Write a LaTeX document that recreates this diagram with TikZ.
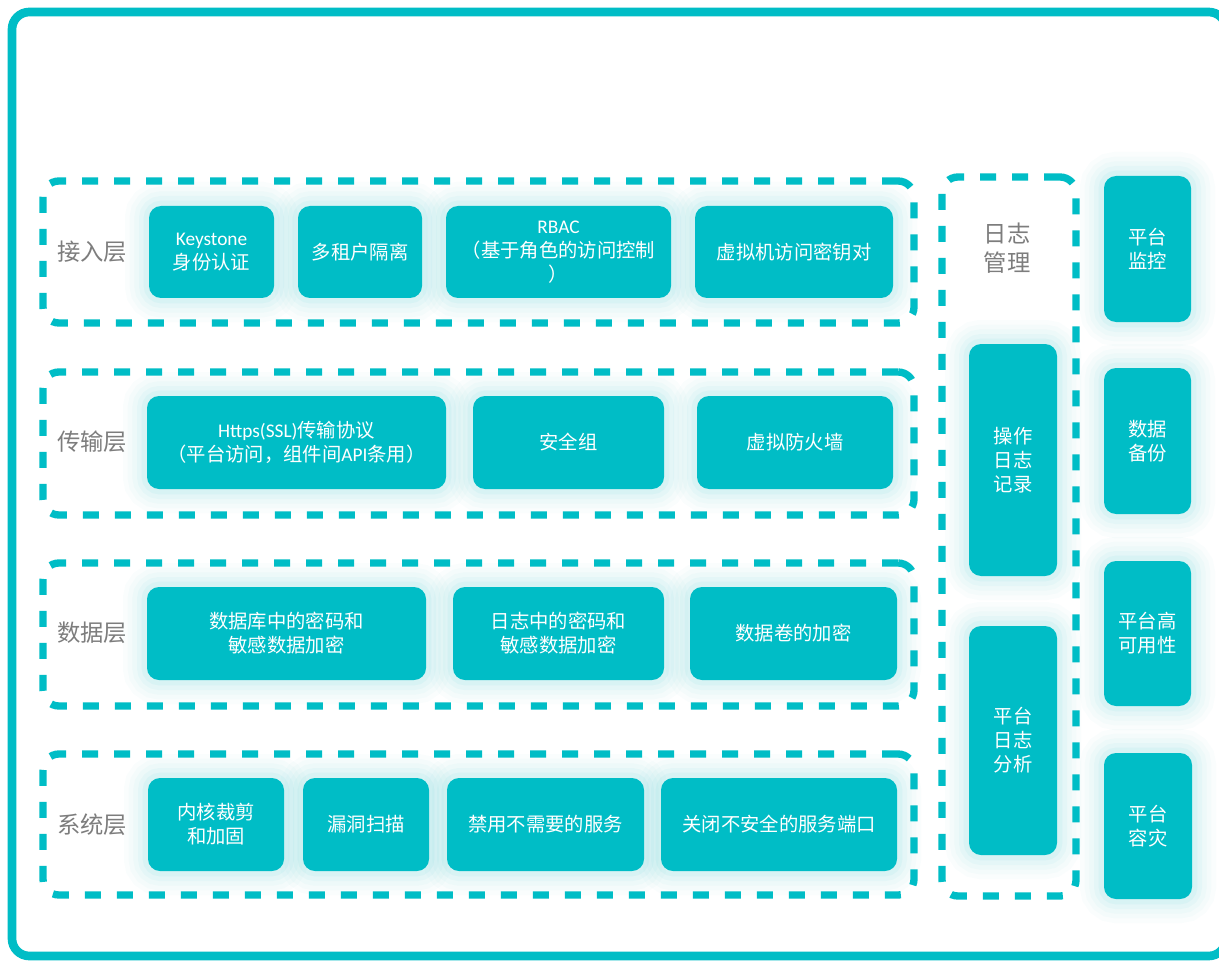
\documentclass[tikz,border=0pt]{standalone}
\usepackage{fontspec}
\setmainfont{Noto Sans CJK SC}
\newfontfamily\lat{Carlito}
\definecolor{tc}{RGB}{0,189,198}
\definecolor{lbl}{RGB}{125,125,125}
\tikzset{
  area/.style args={#1,#2,#3,#4}{minimum width={(#3-#1)*0.75pt},
    minimum height={(#4-#2)*0.75pt}, at={({(#1+#3)/2},{(#2+#4)/2})}},
  glow/.style={
    preaction={draw=tc,draw opacity=.018,line width=36pt},
    preaction={draw=tc,draw opacity=.022,line width=29pt},
    preaction={draw=tc,draw opacity=.028,line width=22pt},
    preaction={draw=tc,draw opacity=.035,line width=15pt},
    preaction={draw=tc,draw opacity=.05,line width=8pt}},
  box/.style={glow, fill=tc, rounded corners=9pt, inner sep=0pt, outer sep=0pt,
    text=white, align=center, font=\fontsize{14.5}{18}\selectfont},
  layer/.style={draw=tc, line width=5.5pt, dash pattern=on 12pt off 12pt,
    rounded corners=12pt, inner sep=0pt},
  lab/.style={text=lbl, font=\fontsize{17.5}{22}\selectfont, align=center},
  frame/.style={draw=tc, line width=6.5pt, rounded corners=13pt, inner sep=0pt},
}
\begin{document}
\begin{tikzpicture}[x=0.75pt,y=-0.75pt]
\useasboundingbox (0,0) rectangle (1219,962);
\clip (0,0) rectangle (1219,962);
\fill[white] (0,0) rectangle (1219,962);
\node[frame, area={12,12,1226,956}] (outer) {};

% layer containers
\node[layer, area={43,181,914,323}] (L1) {};
\node[layer, area={43,372,914,515}] (L2) {};
\node[layer, area={43,563,914,706}] (L3) {};
\node[layer, area={43,754,914,895}] (L4) {};
\node[layer, area={942,177,1076,896}] (LOG) {};

% labels
\node[lab] (l1) at (92,252) {接入层};
\node[lab] (l2) at (92,442) {传输层};
\node[lab] (l3) at (92,633) {数据层};
\node[lab] (l4) at (92,825) {系统层};
\node[lab] (l5) at (1007,248) {日志\\管理};

% row 1
\node[box, area={149,206,274,298}] (b11) {{\lat Keystone}\\身份认证};
\node[box, area={298,206,422,298}] (b12) {多租户隔离};
\node[box, area={446,206,671,298}] (b13) {{\lat RBAC}\\（基于角色的访问控制\\）};
\node[box, area={695,206,893,298}] (b14) {虚拟机访问密钥对};

% row 2
\node[box, area={147,396,446,489}] (b21) {{\lat Https(SSL)}传输协议\\（平台访问，组件间{\lat API}条用）};
\node[box, area={473,396,664,489}] (b22) {安全组};
\node[box, area={697,396,893,489}] (b23) {虚拟防火墙};

% row 3
\node[box, area={147,587,426,680}] (b31) {数据库中的密码和\\敏感数据加密};
\node[box, area={453,587,664,680}] (b32) {日志中的密码和\\敏感数据加密};
\node[box, area={690,587,897,680}] (b33) {数据卷的加密};

% row 4
\node[box, area={148,778,284,871}] (b41) {内核裁剪\\和加固};
\node[box, area={303,778,429,871}] (b42) {漏洞扫描};
\node[box, area={447,778,644,871}] (b43) {禁用不需要的服务};
\node[box, area={661,778,897,871}] (b44) {关闭不安全的服务端口};

% log management
\node[box, area={969,344,1057,576}] (g1) {操作\\日志\\记录};
\node[box, area={969,626,1057,855}] (g2) {平台\\日志\\分析};

% right column
\node[box, area={1104,176,1191,322}] (r1) {平台\\监控};
\node[box, area={1104,368,1191,514}] (r2) {数据\\备份};
\node[box, area={1104,561,1191,706}] (r3) {平台高\\可用性};
\node[box, area={1104,753,1192,899}] (r4) {平台\\容灾};
\end{tikzpicture}
\end{document}
